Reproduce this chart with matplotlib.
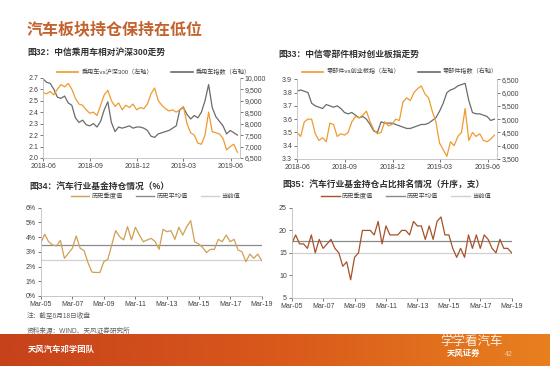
import numpy as np
import pandas as pd
import matplotlib
matplotlib.use("Agg")
import matplotlib.pyplot as plt
from matplotlib.lines import Line2D
from matplotlib.ticker import FuncFormatter
from matplotlib.colors import LinearSegmentedColormap
import matplotlib.dates as mdates

plt.rcParams['font.family'] = ['Liberation Sans', 'Noto Sans CJK SC']

# weekly samples, 2018-06 .. 2019-06
weeks = pd.date_range('2018-06-01', periods=55, freq='7D')

car_vs_hs300 = [2.57, 2.56, 2.58, 2.55, 2.60, 2.64, 2.62, 2.65, 2.60, 2.52,
                2.47, 2.46, 2.42, 2.39, 2.40, 2.37, 2.46, 2.55, 2.59, 2.50,
                2.45, 2.48, 2.42, 2.46, 2.44, 2.47, 2.42, 2.44, 2.43, 2.47,
                2.56, 2.61, 2.50, 2.46, 2.43, 2.41, 2.42, 2.40, 2.42, 2.45,
                2.30, 2.22, 2.20, 2.13, 2.12, 2.20, 2.40, 2.23, 2.22, 2.21,
                2.17, 2.07, 2.10, 2.12, 2.05]
car_index = [9950, 9800, 9750, 9500, 9150, 9100, 9200, 8900, 8800, 8250,
             8050, 8150, 7950, 7900, 8000, 7850, 8100, 8600, 8950, 8050,
             7650, 7850, 7800, 7850, 7900, 7800, 7850, 7850, 7800, 7700,
             7450, 7400, 7550, 7600, 7650, 7700, 7800, 7900, 8600, 8700,
             8400, 8200, 8350, 8250, 8500, 9000, 9700, 8700, 8300, 8100,
             7900, 7550, 7700, 7600, 7500]

parts_vs_gem = [3.50, 3.47, 3.58, 3.60, 3.60, 3.49, 3.44, 3.46, 3.43, 3.57,
                3.56, 3.47, 3.49, 3.48, 3.50, 3.58, 3.62, 3.61, 3.63, 3.66,
                3.58, 3.52, 3.49, 3.50, 3.58, 3.55, 3.56, 3.60, 3.59, 3.73,
                3.76, 3.74, 3.80, 3.83, 3.85, 3.79, 3.76, 3.66, 3.58, 3.42,
                3.37, 3.32, 3.43, 3.40, 3.47, 3.50, 3.68, 3.44, 3.50, 3.47,
                3.49, 3.44, 3.43, 3.45, 3.48]
parts_index = [6050, 6100, 6050, 6000, 5600, 5500, 5450, 5400, 5550, 5500,
               5450, 5500, 5400, 5250, 5200, 5250, 5150, 5050, 5100, 5000,
               4800, 4550, 4500, 4900, 4850, 4850, 4850, 4800, 4750, 4700,
               4650, 4650, 4700, 4750, 4800, 4800, 4850, 4950, 5050, 5300,
               5600, 6000, 6100, 6150, 6250, 6300, 6350, 5700, 5250, 5200,
               5200, 5150, 5100, 4950, 5000]

# quarterly, Mar-05 .. Mar-19
quarters = pd.period_range('2005Q1', '2019Q1', freq='Q')
fund_weight = [3.58, 4.20, 3.69, 3.47, 3.40, 3.78, 2.56, 2.90, 3.24, 4.08,
               3.24, 3.08, 2.25, 1.62, 1.60, 1.60, 2.33, 2.49, 3.47, 4.44,
               4.03, 3.81, 4.71, 3.81, 4.67, 4.14, 3.69, 3.81, 3.92, 3.69,
               3.17, 4.53, 4.37, 4.44, 3.85, 4.67, 4.14, 4.71, 5.12, 3.69,
               3.54, 3.31, 2.95, 3.17, 3.17, 3.85, 3.69, 4.14, 3.69, 3.85,
               3.13, 3.01, 2.33, 2.85, 2.56, 2.85, 2.40]
weight_mean = 3.45
weight_now = 2.42
fund_rank = [17, 19, 17, 17, 16, 19, 15, 18, 16, 17,
             18, 16, 15, 12, 13, 9, 14, 15, 20, 20,
             20, 19, 22, 17, 21, 19, 19, 19, 20, 20,
             19, 22, 21, 21, 18, 21, 18, 22, 23, 19,
             19, 16, 14, 16, 14, 19, 16, 19, 16, 19,
             18, 16, 15, 18, 16, 16, 15]
rank_mean = 17.7
rank_now = 15

ORANGE = '#EE9B30'
GRAY = '#6B6B6B'
TAN = '#CFA054'
BROWN = '#A5522B'
MEAN_C = '#8A8A8A'
NOW_C = '#D0D0D0'
TXT = '#404040'
SPINE = '#BFBFBF'

W, H = 550, 366
fig = plt.figure(figsize=(5.5, 3.66), dpi=100)


def box(x0, y0, x1, y1):
    # pixel box (top-left origin) -> figure fraction rect
    return [x0 / W, 1 - y1 / H, (x1 - x0) / W, (y1 - y0) / H]


def style(ax, right=False):
    ax.spines['top'].set_visible(False)
    ax.spines['right'].set_visible(right)
    for s in ax.spines.values():
        s.set_color(SPINE)
        s.set_linewidth(0.6)
    ax.tick_params(labelsize=5, colors=TXT, length=2, width=0.5, pad=1.5)
    ax.patch.set_visible(False)


def top_chart(rect, left_vals, right_vals, ylim, rlim, rstep, labels, legend_xy):
    ax = fig.add_axes(rect)
    ax2 = ax.twinx()
    ax2.plot(weeks, right_vals, color=GRAY, lw=0.9)
    ax.plot(weeks, left_vals, color=ORANGE, lw=0.9)
    ax.set_zorder(ax2.get_zorder() + 1)
    style(ax)
    style(ax2, right=True)
    ax2.spines['left'].set_visible(False)
    ax2.spines['bottom'].set_visible(False)
    ax.set_ylim(*ylim)
    ax.set_yticks(np.round(np.arange(ylim[0], ylim[1] + 0.001, 0.1), 1))
    ax.yaxis.set_major_formatter(FuncFormatter(lambda v, p: f'{v:.1f}'))
    ax2.set_ylim(*rlim)
    ax2.set_yticks(np.arange(rlim[0], rlim[1] + 1, rstep))
    ax2.yaxis.set_major_formatter(FuncFormatter(lambda v, p: f'{v:,.0f}'))
    ax.set_xlim(pd.Timestamp('2018-06-01'), pd.Timestamp('2019-06-19'))
    ax.set_xticks(pd.to_datetime(['2018-06-01', '2018-09-01', '2018-12-01',
                                  '2019-03-01', '2019-06-01']))
    ax.xaxis.set_major_formatter(mdates.DateFormatter('%Y-%m'))
    handles = [Line2D([], [], color=ORANGE, lw=1.2), Line2D([], [], color=GRAY, lw=1.2)]
    fig.legend(handles, labels, loc='center', bbox_to_anchor=legend_xy, ncol=2,
               frameon=False, fontsize=4.4, handlelength=3.5, handletextpad=0.5,
               columnspacing=3.0, labelcolor=TXT)


top_chart(box(43, 77.7, 240, 158), car_vs_hs300, car_index, (2.0, 2.7), (6500, 10000), 500,
          ['乘用车vs沪深300（左轴）', '乘用车指数（右轴）'], (154 / W, 1 - 72 / H))
top_chart(box(297, 79.3, 497, 159), parts_vs_gem, parts_index, (3.3, 3.9), (3500, 6500), 500,
          ['零部件vs创业板指（左轴）', '零部件指数（右轴）'], (400 / W, 1 - 71.5 / H))


def bottom_chart(rect, vals, mean, now, color, ylim, ystep, fmt, legend_xy):
    ax = fig.add_axes(rect)
    x = np.arange(len(quarters))
    ax.axhline(now, color=NOW_C, lw=0.9)
    ax.axhline(mean, color=MEAN_C, lw=0.9)
    ax.plot(x, vals, color=color, lw=0.9)
    style(ax)
    ax.set_xlim(0, len(quarters) - 1)
    ax.set_ylim(*ylim)
    ax.set_yticks(np.arange(ylim[0], ylim[1] + 0.001, ystep))
    ax.yaxis.set_major_formatter(FuncFormatter(fmt))
    ax.set_xticks(x[::8])
    ax.set_xticklabels([f'Mar-{p.year % 100:02d}' for p in quarters[::8]])
    handles = [Line2D([], [], color=color, lw=1.0), Line2D([], [], color=MEAN_C, lw=1.0),
               Line2D([], [], color=NOW_C, lw=1.0)]
    fig.legend(handles, ['历史季度值', '历史平均值', '当前值'], loc='center',
               bbox_to_anchor=legend_xy, ncol=3, frameon=False, fontsize=4.5,
               handlelength=3.0, handletextpad=0.4, columnspacing=2.0, labelcolor=TXT)


bottom_chart(box(40.7, 207.7, 261.7, 296), fund_weight, weight_mean, weight_now, TAN,
             (0, 6), 1, lambda v, p: f'{v:.0f}%', (155.5 / W, 1 - 196 / H))
bottom_chart(box(291.7, 208, 511.7, 297.7), fund_rank, rank_mean, rank_now, BROWN,
             (5, 25), 5, lambda v, p: f'{v:.0f}', (406 / W, 1 - 196 / H))

# titles and notes
fig.text(27 / W, 1 - 29 / H, '汽车板块持仓保持在低位', fontsize=11.5, color='#C4622D',
         weight='bold', va='center')
sub = dict(fontsize=6.3, color='#303030', weight='bold', va='center')
fig.text(27 / W, 1 - 52.5 / H, '图32：中信乘用车相对沪深300走势', **sub)
fig.text(278 / W, 1 - 54 / H, '图33：中信零部件相对创业板指走势', **sub)
fig.text(29 / W, 1 - 186 / H, '图34：汽车行业基金持仓情况（%）', **sub)
fig.text(282 / W, 1 - 185 / H, '图35：汽车行业基金持仓占比排名情况（升序，支）', **sub)
fig.text(27 / W, 1 - 316 / H, '注：截至6月18日收盘', fontsize=4.8, color='#606060', va='center')
fig.text(27 / W, 1 - 331 / H, '资料来源：WIND、天风证券研究所', fontsize=4.8, color='#606060',
         va='center')

# footer band
fax = fig.add_axes(box(0, 334, 550, 366))
grad = np.linspace(0, 1, 256).reshape(1, -1)
cmap = LinearSegmentedColormap.from_list('band', ['#C6421B', '#D9581B', '#E8801F'])
fax.imshow(grad, aspect='auto', cmap=cmap, extent=[0, 1, 0, 1])
fax.set_xlim(0, 1)
fax.set_ylim(0, 1)
fax.axis('off')
fig.text(28 / W, 1 - 350 / H, '天风汽车邓学团队', fontsize=6, color='white', weight='bold',
         va='center')
fig.text(440 / W, 1 - 341.5 / H, '学学看汽车', fontsize=9, color='white', alpha=0.9,
         va='center')
fig.text(447 / W, 1 - 354 / H, '天风证券', fontsize=6, color='white', weight='bold',
         va='center')
fig.text(505 / W, 1 - 354 / H, '42', fontsize=5, color='#F5D0A0', va='center')

fig.savefig('out.png', dpi=100)
